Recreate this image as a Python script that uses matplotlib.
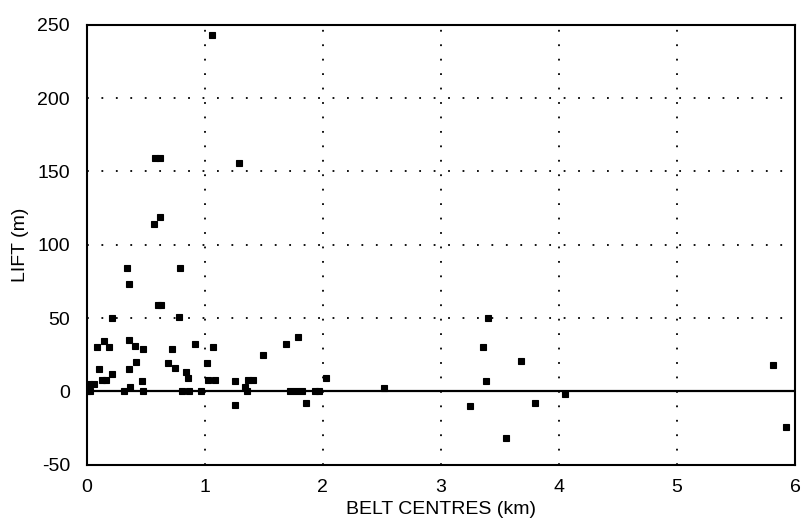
import matplotlib
matplotlib.use("Agg")
import matplotlib.pyplot as plt

plt.rcParams["font.family"] = ["Liberation Sans", "DejaVu Sans"]
plt.rcParams["axes.unicode_minus"] = False

# belt centre distance (km) and lift (m)
belt_km = [0.00, 0.03, 0.02, 0.06, 0.09, 0.10, 0.15, 0.19, 0.13, 0.16,
           0.21, 0.21, 0.32, 0.37, 0.34, 0.36, 0.36, 0.41, 0.48, 0.36,
           0.42, 0.47, 0.48, 0.57, 0.62, 0.60, 0.63, 0.58, 0.62, 0.72,
           0.69, 0.75, 0.79, 0.78, 0.84, 0.86, 0.81, 0.87, 0.92, 0.97,
           1.02, 1.07, 1.03, 1.09, 1.06, 1.29, 1.26, 1.26, 1.34, 1.36,
           1.37, 1.41, 1.49, 1.69, 1.79, 1.72, 1.77, 1.82, 1.86, 1.93,
           1.97, 2.03, 2.52, 3.25, 3.36, 3.38, 3.40, 3.55, 3.68, 3.80,
           4.05, 5.81, 5.92]
lift_m = [0, 0, 5, 5, 30, 15, 34, 30, 8, 8,
          12, 50, 0, 3, 84, 73, 35, 31, 29, 15,
          20, 7, 0, 114, 119, 59, 59, 159, 159, 29,
          19, 16, 84, 51, 13, 9, 0, 0, 32, 0,
          19, 30, 8, 8, 243, 156, 7, -9, 3, 0,
          8, 8, 25, 32, 37, 0, 0, 0, -8, 0,
          0, 9, 2, -10, 30, 7, 50, -32, 21, -8,
          -2, 18, -24]

x_ticks = [0, 1, 2, 3, 4, 5, 6]
y_ticks = [-50, 0, 50, 100, 150, 200, 250]

fig = plt.figure(figsize=(8.03, 5.28), dpi=100)
ax = fig.add_axes([0.108, 0.12, 0.882, 0.833])

ax.axhline(0, color="black", lw=1.6, zorder=2)
ax.plot(belt_km, lift_m, ls="none", marker="s", ms=4,
        mfc="black", mec="black", mew=0.8, zorder=3)

ax.set_xlim(0, 6)
ax.set_ylim(-50, 250)
ax.set_xticks(x_ticks)
ax.set_yticks(y_ticks)
ax.tick_params(length=0, labelsize=14, colors="black")
ax.tick_params(axis="x", pad=10)
ax.tick_params(axis="y", pad=12)

ax.grid(True, color="black", ls=(0, (1, 7)), lw=1.3)
for s in ax.spines.values():
    s.set_linewidth(1.5)
    s.set_color("black")

ax.set_xlabel("BELT CENTRES (km)", fontsize=14, labelpad=4)
ax.set_ylabel("LIFT (m)", fontsize=14, labelpad=6)

fig.savefig("out.png", dpi=100)
